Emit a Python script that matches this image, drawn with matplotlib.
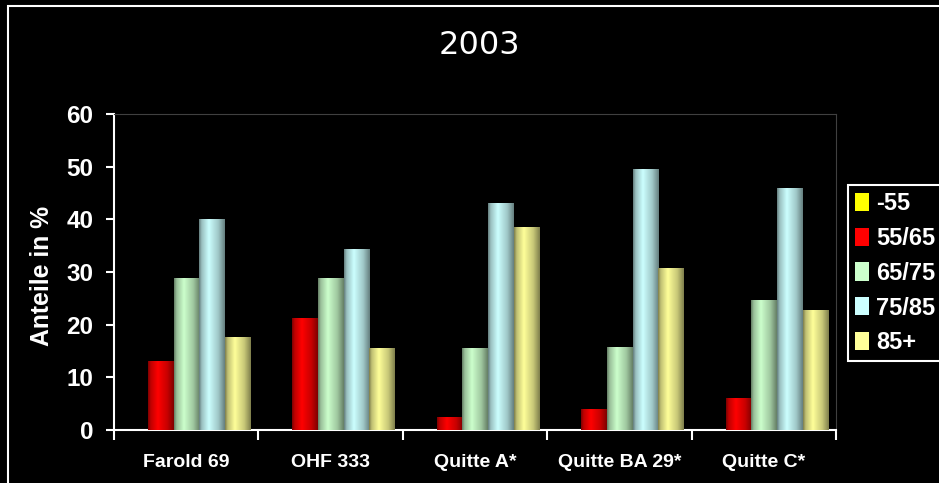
import matplotlib.pyplot as plt
import numpy as np
from matplotlib.patches import Patch, Rectangle

plt.rcParams['font.family'] = ['Liberation Sans', 'DejaVu Sans']

categories = ['Farold 69', 'OHF 333', 'Quitte A*', 'Quitte BA 29*', 'Quitte C*']
series_names = ['-55', '55/65', '65/75', '75/85', '85+']
s_55 = [0, 0, 0, 0, 0]
s_55_65 = [13.0, 21.1, 2.3, 3.9, 6.0]
s_65_75 = [28.8, 28.8, 15.4, 15.7, 24.5]
s_75_85 = [40.0, 34.2, 43.0, 49.5, 45.8]
s_85 = [17.5, 15.4, 38.5, 30.6, 22.7]
colors = ['#ffff00', '#ff0000', '#ccffcc', '#ccffff', '#ffff99']

values = [s_55, s_55_65, s_65_75, s_75_85, s_85]

fig = plt.figure(figsize=(9.39, 4.83), dpi=100, facecolor='black')
ax = fig.add_axes([114 / 939, 1 - 430 / 483, 722 / 939, 316 / 483])
ax.set_facecolor('black')

slot = 0.178
width = 0.174
x = np.arange(len(categories))

# horizontal shading to fake the cylinder look of the original
t = np.linspace(0, 1, 60)
profile = np.interp(t, [0, 0.1, 0.38, 0.75, 1.0], [0.5, 0.75, 1.0, 0.78, 0.5])

for i, (vals, c) in enumerate(zip(values, colors)):
    pos = x + (i - 2) * slot
    ax.bar(pos, vals, width=width, color=c, edgecolor='none', zorder=2)
    rgb = np.array(plt.matplotlib.colors.to_rgb(c))
    img = (profile[:, None] * rgb[None, :])[None, :, :]
    for p, v in zip(pos, vals):
        if v > 0:
            ax.imshow(img, extent=(p - width / 2, p + width / 2, 0, v),
                      aspect='auto', interpolation='bilinear', zorder=3)

ax.set_xlim(-0.5, len(categories) - 0.5)
ax.set_ylim(0, 60)
ax.set_yticks(range(0, 61, 10))
ax.set_xticks(np.arange(-0.5, len(categories), 1.0))
ax.set_xticklabels([])
ax.set_xticks(x, minor=True)
ax.set_xticklabels(categories, minor=True)

ax.tick_params(axis='y', colors='white', labelsize=17.5, length=6, width=1.5, pad=9)
ax.tick_params(axis='x', which='major', colors='white', length=7, width=1.5)
ax.tick_params(axis='x', which='minor', colors='white', labelsize=14, length=0, pad=17.5)
for lab in ax.get_yticklabels() + ax.get_xticklabels(minor=True):
    lab.set_fontweight('bold')

ax.spines['left'].set_color('white')
ax.spines['bottom'].set_color('white')
ax.spines['left'].set_linewidth(1.5)
ax.spines['bottom'].set_linewidth(1.5)
ax.spines['top'].set_color('#404040')
ax.spines['right'].set_color('#404040')

fig.text(42 / 939, 1 - 276 / 483, 'Anteile in %', rotation=90, color='white',
         fontsize=17.8, fontweight='bold', ha='center', va='center')
fig.text(479 / 939, 1 - 46 / 483, '2003', color='white', fontsize=23,
         family='DejaVu Sans', ha='center', va='center')

handles = [Patch(facecolor=c, edgecolor='none') for c in colors]
leg = fig.legend(handles, series_names, loc='upper left',
                 bbox_to_anchor=(848 / 939, 1 - 185 / 483), borderaxespad=0,
                 prop={'weight': 'bold', 'size': 17}, labelcolor='white',
                 facecolor='black', edgecolor='white', fancybox=False,
                 handlelength=0.6, handleheight=0.8, handletextpad=0.3,
                 labelspacing=0.5, borderpad=0.3, framealpha=1)
leg.get_frame().set_linewidth(1.5)

fig.patches.append(Rectangle((7.5 / 939, -0.05), 1.2, 1 - 5.5 / 483 + 0.05,
                             transform=fig.transFigure, fill=False,
                             edgecolor='white', linewidth=1.5))

fig.savefig('out.png', dpi=100, facecolor='black')
